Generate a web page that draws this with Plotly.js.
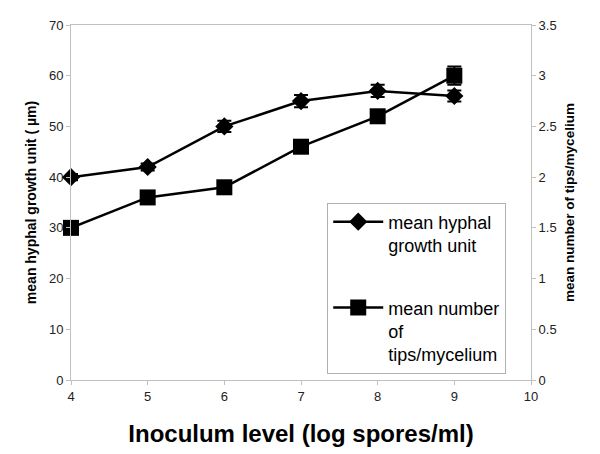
<!DOCTYPE html>
<html>
<head>
<meta charset="utf-8">
<script src="https://cdn.plot.ly/plotly-3.0.1.min.js"></script>
<style>
  body { margin: 0; background: #fff; }
  #chart { width: 600px; height: 454px; }
</style>
</head>
<body>
<div id="chart"></div>
<script>
// Inoculum level (log spores/ml)
const inoculum = [4, 5, 6, 7, 8, 9];

// mean hyphal growth unit (um), left axis
const hyphal = [40, 42, 50, 55, 57, 56];
const hyphalErr = [0.6, 0.7, 1.1, 1.2, 1.2, 1.1];

// mean number of tips/mycelium, right axis
const tips = [1.5, 1.8, 1.9, 2.3, 2.6, 3.0];
const tipsErr = [0.03, 0.03, 0.03, 0.04, 0.05, 0.09];

const font = 'Arial, "Liberation Sans", sans-serif';
const axisGray = '#c0c0c0';

const traces = [
  {
    x: inoculum,
    y: hyphal,
    name: 'mean hyphal<br>growth unit',
    mode: 'lines+markers',
    cliponaxis: false,
    line: {color: '#000', width: 2.5},
    marker: {symbol: 'diamond', size: 14, color: '#000'},
    error_y: {type: 'data', array: hyphalErr, color: '#000', thickness: 2, width: 7},
    legendgroup: 'a',
    yaxis: 'y'
  },
  {
    x: inoculum,
    y: tips,
    name: 'mean number<br>of<br>tips/mycelium',
    mode: 'lines+markers',
    cliponaxis: false,
    line: {color: '#000', width: 2.5},
    marker: {symbol: 'square', size: 16, color: '#000'},
    error_y: {type: 'data', array: tipsErr, color: '#000', thickness: 2, width: 7},
    legendgroup: 'b',
    yaxis: 'y2'
  }
];

const layout = {
  width: 600,
  height: 454,
  margin: {l: 71, r: 69, t: 25, b: 74},
  paper_bgcolor: '#fff',
  plot_bgcolor: '#fff',
  font: {family: font, color: '#000', size: 12},
  showlegend: true,
  legend: {
    x: 0.557, y: 0.5, xanchor: 'left', yanchor: 'top',
    bgcolor: '#fff', bordercolor: '#b0b0b0', borderwidth: 1,
    font: {family: font, size: 18, color: '#000'},
    valign: 'top',
    tracegroupgap: 36,
    itemwidth: 50
  },
  xaxis: {
    range: [4, 10],
    dtick: 1,
    showgrid: false,
    zeroline: false,
    showline: true,
    mirror: true,
    linecolor: axisGray,
    linewidth: 1,
    ticks: 'outside',
    ticklen: 4,
    tickcolor: axisGray,
    tickfont: {family: font, size: 13, color: '#222'},
    title: {text: '<b>Inoculum level (log spores/ml)</b>', font: {family: font, size: 24, color: '#000'}, standoff: 22}
  },
  yaxis: {
    range: [0, 70],
    dtick: 10,
    showgrid: false,
    zeroline: false,
    showline: true,
    linecolor: axisGray,
    linewidth: 1,
    ticks: 'outside',
    ticklen: 4,
    tickcolor: axisGray,
    tickfont: {family: font, size: 13, color: '#222'},
    title: {text: '<b>mean hyphal growth unit ( \u00b5m)</b>', font: {family: font, size: 14, color: '#000'}, standoff: 9}
  },
  yaxis2: {
    range: [0, 3.5],
    dtick: 0.5,
    overlaying: 'y',
    side: 'right',
    showgrid: false,
    zeroline: false,
    showline: true,
    linecolor: axisGray,
    linewidth: 1,
    ticks: 'outside',
    ticklen: 4,
    tickcolor: axisGray,
    tickfont: {family: font, size: 13, color: '#222'},
    title: {text: '<b>mean number of tips/mycelium</b>', font: {family: font, size: 13.5, color: '#000'}, standoff: 8}
  }
};

Plotly.newPlot('chart', traces, layout, {displayModeBar: false, responsive: false});
</script>
</body>
</html>
